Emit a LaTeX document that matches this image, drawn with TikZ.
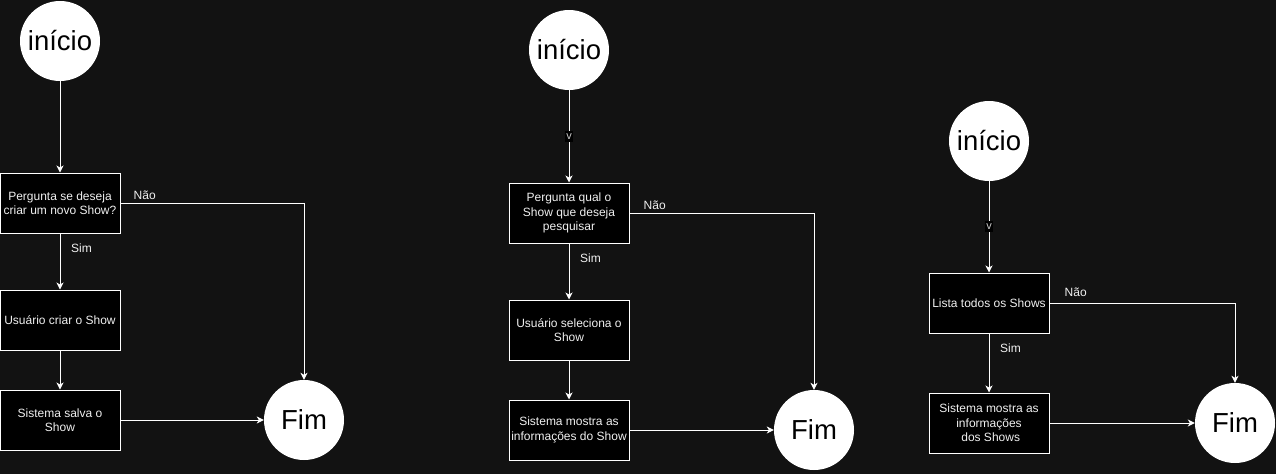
\documentclass[tikz,border=0pt]{standalone}
\usepackage{fontspec}
\setmainfont{Liberation Sans}
\usetikzlibrary{arrows.meta,positioning}

\definecolor{canvas}{HTML}{121212}
\definecolor{inktext}{HTML}{F0F0F0}

\tikzset{
  terminal/.style={circle, fill=white, draw=none, minimum size=80pt, inner sep=0pt,
    text=black, font=\fontsize{27.5}{30}\selectfont},
  procbox/.style={rectangle, draw=white, fill=black, line width=1pt,
    minimum width=120pt, minimum height=60pt, inner sep=1pt, align=center,
    text=inktext, font=\fontsize{12}{14.4}\selectfont},
  flow/.style={draw=white, line width=1pt,
    -{Stealth[length=7pt, width=7pt, inset=2pt]}},
  edgelbl/.style={text=inktext, inner sep=0pt, font=\fontsize{12}{14}\selectfont},
  vlbl/.style={fill=black, text=inktext!85!black, inner xsep=0.8pt, inner ysep=2.5pt,
    font=\fontsize{11}{12}\selectfont}
}

\begin{document}
\begin{tikzpicture}[x=1pt, y=-1pt]
  \fill[canvas] (0,0) rectangle (1276,474);
  \useasboundingbox (0,0) rectangle (1276,474);

  % ---------- criar Show ----------
  \node[terminal] (i1) at (60,41) {início};
  \node[procbox] (a1) at (60,203) {Pergunta se deseja\\criar um novo Show?};
  \node[procbox] (a2) at (60,320) {Usuário criar o Show};
  \node[procbox] (a3) at (60,420) {Sistema salva o\\Show};
  \node[terminal] (f1) at (304,420) {Fim};

  \draw[flow] (i1) -- (a1);
  \draw[flow] (a1) -- (a2);
  \draw[flow] (a2) -- (a3);
  \draw[flow] (a3) -- (f1);
  \draw[flow] (a1.east) -| (f1.north);
  \node[edgelbl, anchor=west] (n1) at ([xshift=13pt, yshift=7.5pt]a1.east) {Não};
  \node[edgelbl, anchor=west] (s1) at ([xshift=11pt, yshift=-15pt]a1.south) {Sim};

  % ---------- pesquisar Show ----------
  \node[terminal] (i2) at (569,50) {início};
  \node[procbox] (b1) at (569,213) {Pergunta qual o\\Show que deseja\\pesquisar};
  \node[procbox] (b2) at (569,330) {Usuário seleciona o\\Show};
  \node[procbox] (b3) at (569,430) {Sistema mostra as\\informações do Show};
  \node[terminal] (f2) at (814,430) {Fim};

  \draw[flow] (i2) -- node[vlbl] (v2) {v} (b1);
  \draw[flow] (b1) -- (b2);
  \draw[flow] (b2) -- (b3);
  \draw[flow] (b3) -- (f2);
  \draw[flow] (b1.east) -| (f2.north);
  \node[edgelbl, anchor=west] (n2) at ([xshift=14pt, yshift=7.5pt]b1.east) {Não};
  \node[edgelbl, anchor=west] (s2) at ([xshift=11pt, yshift=-15pt]b1.south) {Sim};

  % ---------- listar Shows ----------
  \node[terminal] (i3) at (989,141) {início};
  \node[procbox] (c1) at (989,303) {Lista todos os Shows};
  \node[procbox] (c2) at (989,423) {Sistema mostra as\\informações\\\ dos Shows};
  \node[terminal] (f3) at (1235,423) {Fim};

  \draw[flow] (i3) -- node[vlbl] (v3) {v} (c1);
  \draw[flow] (c1) -- (c2);
  \draw[flow] (c2) -- (f3);
  \draw[flow] (c1.east) -| (f3.north);
  \node[edgelbl, anchor=west] (n3) at ([xshift=15pt, yshift=11pt]c1.east) {Não};
  \node[edgelbl, anchor=west] (s3) at ([xshift=11pt, yshift=-15pt]c1.south) {Sim};
\end{tikzpicture}
\end{document}
